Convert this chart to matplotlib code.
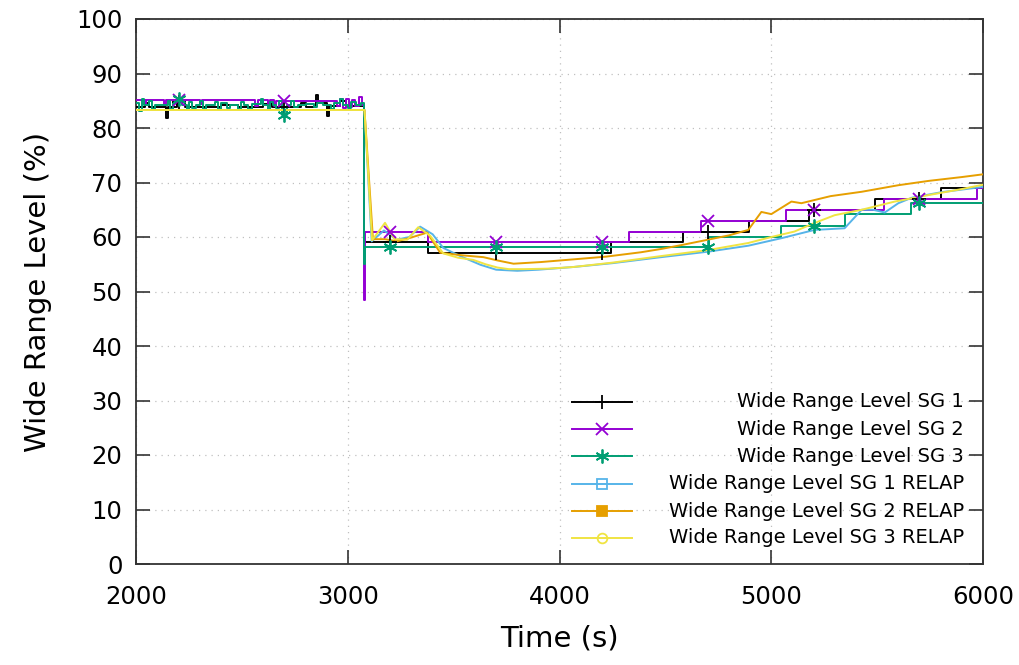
import numpy as np
import matplotlib
matplotlib.use("Agg")
import matplotlib.pyplot as plt
from matplotlib.lines import Line2D

# measured steam generator wide range levels (step data, %)
sg1_t = [2000, 2040, 2060, 2140, 2150, 2190, 2230, 2400, 2480, 2600, 2640, 2780, 2800,
         2850, 2860, 2900, 2910, 2960, 2990, 3078, 3376, 4242, 4583, 4896, 5180, 5490,
         5802, 6000]
sg1_v = [83.8, 84.6, 83.8, 81.8, 83.8, 84.8, 83.8, 84.2, 83.8, 84.4, 83.8, 84.5, 83.8,
         86.0, 84.5, 82.2, 84.0, 85.0, 84.0, 59.0, 57.0, 59.0, 61.0, 63.0, 65.0, 67.0,
         69.0, 69.0]

sg2_t = [2000, 2040, 2048, 2130, 2140, 2300, 2310, 2560, 2575, 2620, 2630, 2650, 2660,
         2950, 2960, 2975, 2990, 3005, 3020, 3035, 3050, 3065, 3076, 3080, 3376, 4327,
         4668, 5071, 5531, 5973, 6000]
sg2_v = [85.1, 84.2, 85.1, 84.3, 85.1, 84.4, 85.1, 84.0, 85.1, 84.2, 85.1, 84.0, 85.0,
         84.0, 85.3, 83.6, 85.4, 83.8, 85.2, 84.0, 85.6, 84.2, 48.5, 61.0, 59.0, 61.0,
         63.0, 65.0, 67.0, 69.0, 69.0]

sg3_t = [2000, 2015, 2025, 2035, 2060, 2075, 2090, 2150, 2160, 2175, 2195, 2215, 2240,
         2250, 2265, 2280, 2300, 2315, 2330, 2370, 2385, 2400, 2430, 2445, 2480, 2495,
         2510, 2530, 2545, 2590, 2600, 2620, 2630, 2645, 2660, 2675, 2690, 2712, 2730,
         2745, 2765, 2800, 2840, 2855, 2880, 2920, 2935, 2960, 2975, 3000, 3015, 3040,
         3060, 3078, 3081, 4706, 5047, 5346, 5662, 6000]
sg3_v = [84.5, 83.2, 85.3, 84.2, 85.0, 83.5, 84.2, 85.0, 83.4, 84.8, 85.4, 84.3, 83.4,
         84.8, 83.6, 84.3, 85.0, 83.5, 84.3, 84.8, 83.4, 84.6, 83.6, 84.3, 83.5, 84.8,
         84.3, 83.4, 84.4, 85.3, 84.2, 83.3, 84.8, 84.2, 83.6, 84.9, 82.3, 84.2, 84.9,
         83.8, 84.2, 84.4, 83.8, 84.6, 84.2, 83.5, 84.6, 85.3, 84.2, 83.6, 84.8, 84.2,
         84.6, 55.0, 58.2, 60.0, 62.0, 64.2, 66.2, 66.2]

# RELAP calculated levels (%)
r1_t = [2000, 3078, 3112, 3170, 3230, 3290, 3341, 3400, 3450, 3530, 3626, 3700, 3800,
        3900, 4066, 4250, 4479, 4700, 4891, 5050, 5204, 5346, 5427, 5480, 5536, 5600,
        5663, 5800, 6000]
r1_v = [83.3, 83.3, 59.2, 61.2, 59.5, 60.0, 61.9, 60.5, 58.0, 56.5, 54.9, 54.0, 53.8,
        54.0, 54.5, 55.2, 56.3, 57.3, 58.4, 59.8, 61.3, 61.6, 65.0, 65.0, 64.5, 66.2,
        67.2, 68.2, 69.2]

r2_t = [2000, 3078, 3118, 3175, 3230, 3290, 3374, 3436, 3550, 3640, 3706, 3782, 3910,
        4066, 4220, 4384, 4479, 4573, 4700, 4800, 4891, 4953, 5000, 5095, 5142, 5280,
        5427, 5600, 5744, 5900, 6000]
r2_v = [83.3, 83.3, 59.6, 59.6, 59.2, 59.8, 60.8, 57.1, 56.6, 56.3, 55.7, 55.1, 55.4,
        55.9, 56.4, 57.2, 57.8, 58.5, 59.5, 60.3, 61.3, 64.6, 64.2, 66.5, 66.2, 67.5,
        68.3, 69.5, 70.3, 71.0, 71.5]

r3_t = [2000, 3078, 3114, 3175, 3220, 3280, 3332, 3389, 3450, 3520, 3592, 3650, 3706,
        3760, 3830, 3950, 4066, 4250, 4479, 4700, 4891, 5000, 5109, 5200, 5299, 5427,
        5583, 5744, 5900, 6000]
r3_v = [83.3, 83.3, 59.4, 62.6, 59.6, 59.5, 61.8, 60.2, 57.0, 56.2, 55.8, 55.0, 54.4,
        54.1, 54.1, 54.2, 54.5, 55.3, 56.5, 57.6, 58.9, 60.0, 61.0, 62.5, 64.0, 65.0,
        66.5, 67.7, 68.8, 69.6]

# times where gnuplot drew point symbols on the measured curves
mark_t = [2200, 2700, 3200, 3700, 4200, 4700, 5200, 5700]

labels = ["Wide Range Level SG 1", "Wide Range Level SG 2", "Wide Range Level SG 3",
          "Wide Range Level SG 1 RELAP", "Wide Range Level SG 2 RELAP",
          "Wide Range Level SG 3 RELAP"]

c_black = "#000000"
c_purple = "#9400d3"
c_green = "#009e73"
c_blue = "#56b4e9"
c_orange = "#e69f00"
c_yellow = "#f0e442"


def step_value(t, v, at):
    idx = np.searchsorted(np.asarray(t), at, side="right") - 1
    return np.asarray(v)[idx]


fig = plt.figure(figsize=(10.2, 6.65), dpi=100)
ax = fig.add_axes([136.3 / 1020, 1 - 564 / 665, (983 - 136.3) / 1020, 545 / 665])

lw = 1.4
measured = [(sg1_t, sg1_v, c_black, "+", 10), (sg2_t, sg2_v, c_purple, "x", 8),
            (sg3_t, sg3_v, c_green, (6, 2, 0), 10)]
relap = [(r1_t, r1_v, c_blue), (r2_t, r2_v, c_orange), (r3_t, r3_v, c_yellow)]

for t, v, col, mk, ms in measured:
    ax.plot(t, v, color=col, lw=lw, drawstyle="steps-post", zorder=3)
    ax.plot(mark_t, step_value(t, v, mark_t), ls="none", marker=mk, ms=ms,
            mec=col, mew=1.3, zorder=4)
for t, v, col in relap:
    ax.plot(t, v, color=col, lw=lw, zorder=3)

ax.set_xlim(2000, 6000)
ax.set_ylim(0, 100)
ax.set_xticks(np.arange(2000, 6001, 1000))
ax.set_yticks(np.arange(0, 101, 10))
ax.grid(True, color="#c0c0c0", linestyle=(0, (1, 4)), linewidth=0.9)
ax.tick_params(direction="in", length=10, width=1.2, top=True, right=True,
               labelsize=17.5, color="#333333")
ax.tick_params(axis="x", pad=15)
ax.tick_params(axis="y", pad=10)
for s in ax.spines.values():
    s.set_linewidth(1.3)
    s.set_color("#333333")

ax.set_xlabel("Time (s)", fontsize=21, labelpad=11)
ax.set_ylabel("Wide Range Level (%)", fontsize=21, labelpad=17)

# key: sample on the left, right-justified text
rows = [0.298, 0.247, 0.198, 0.147, 0.097, 0.048]
styles = [(c_black, "+", c_black, 10), (c_purple, "x", c_purple, 8),
          (c_green, (6, 2, 0), c_green, 10), (c_blue, "s", "none", 7),
          (c_orange, "s", c_orange, 7), (c_yellow, "o", "none", 7)]
for y, lab, (col, mk, fc, ms) in zip(rows, labels, styles):
    ax.add_line(Line2D([0.5146, 0.5855], [y, y], transform=ax.transAxes,
                       color=col, lw=lw, zorder=5))
    ax.add_line(Line2D([0.55], [y], transform=ax.transAxes, ls="none", marker=mk,
                       ms=ms, mec=col, mfc=fc, mew=1.3, zorder=5))
    ax.text(0.9774, y, lab, transform=ax.transAxes, ha="right", va="center",
            fontsize=14, zorder=5)

fig.savefig("out.png", dpi=100)
